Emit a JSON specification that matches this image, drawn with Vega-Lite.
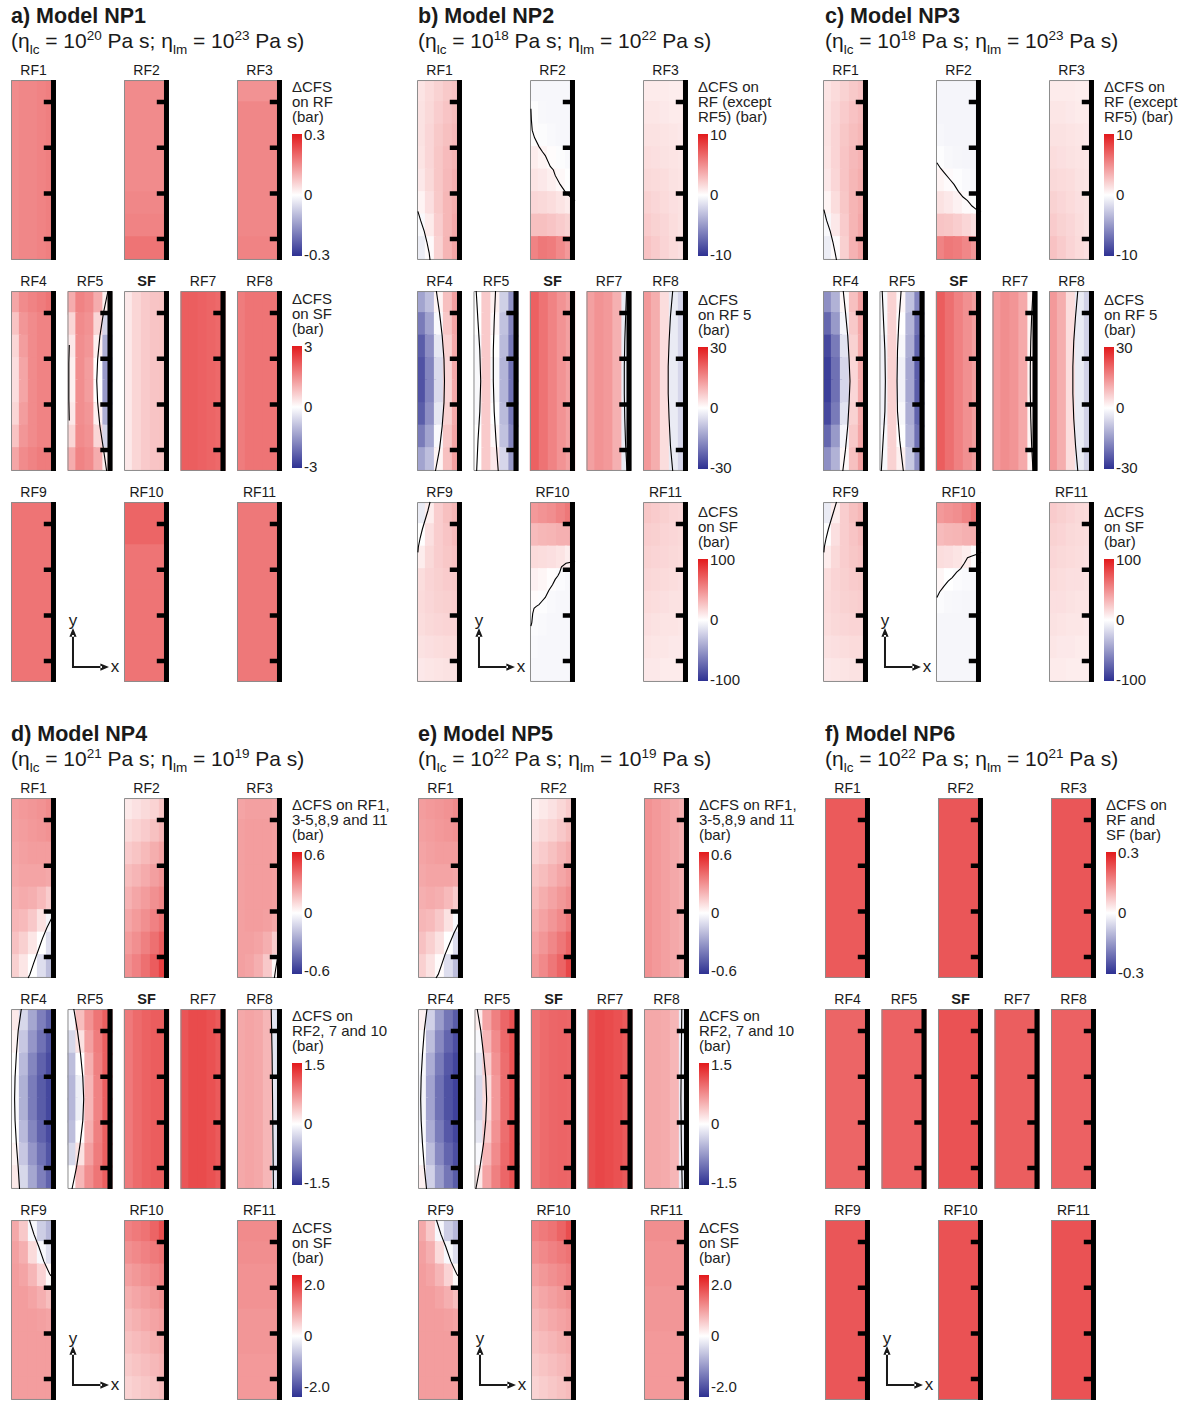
{
"$schema":"https://vega.github.io/schema/vega-lite/v6.json",
"padding":{"left":10,"top":2,"right":5,"bottom":0},
"background":"white",
"config":{
 "font":"Liberation Sans",
 "view":{"stroke":null},
 "axis":{"disable":true},
 "mark":{"color":"#1a1a1a"},
 "text":{"align":"left","baseline":"alphabetic","fontSize":21,"color":"#1a1a1a"},
 "legend":{"gradientLength":122,"gradientThickness":10,"gradientStrokeWidth":0,"titleFontSize":15,"titleFontWeight":"normal","titleColor":"#222","titleLineHeight":15,"titlePadding":9,"titleLimit":220,"labelFontSize":15,"labelColor":"#222","labelOffset":5,"offset":9,
  "layout":{"right":{"anchor":"start","direction":"vertical","margin":29}}}
},
"datasets":{
"T":[{"m":"a","w":1,"t":"a) Model NP1","e1":"20","e2":"23"},{"m":"b","w":1,"t":"b) Model NP2","e1":"18","e2":"22"},{"m":"c","w":1,"t":"c) Model NP3","e1":"18","e2":"23"},{"m":"d","w":2,"t":"d) Model NP4","e1":"21","e2":"19"},{"m":"e","w":2,"t":"e) Model NP5","e1":"22","e2":"19"},{"m":"f","w":2,"t":"f) Model NP6","e1":"22","e2":"21"}],
"a":[
{"k":"h","n":"RF1","r":1,"s":1,"q":1,"i":[0,1,2,3,4],"a":[0.155,0.16,0.16,0.165,0.17]},
{"k":"h","n":"RF2","r":1,"s":3,"q":1,"i":[0],"a":[0.155],"b":[0.155],"c":[0.155],"d":[0.155],"e":[0.155],"f":[0.16],"g":[0.165],"h":[0.185]},
{"k":"h","n":"RF3","r":1,"s":5,"q":1,"i":[0],"a":[0.145],"b":[0.16],"c":[0.16],"d":[0.16],"e":[0.16],"f":[0.16],"g":[0.16],"h":[0.165]},
{"k":"h","n":"RF4","r":2,"s":1,"q":1,"i":[0,1,2,3,4],"a":[0.12,0.155,0.165,0.175,0.185],"b":[0.08,0.14,0.155,0.165,0.165],"c":[0.055,0.13,0.155,0.165,0.165],"d":[0.045,0.12,0.155,0.165,0.165],"e":[0.045,0.12,0.155,0.165,0.165],"f":[0.055,0.13,0.155,0.165,0.165],"g":[0.08,0.14,0.155,0.165,0.165],"h":[0.12,0.155,0.165,0.175,0.175]},
{"k":"h","n":"RF5","r":2,"s":2,"q":1,"i":[0,1,2,3,4],"a":[0.11,0.165,0.155,0.11,0.02],"b":[0.055,0.155,0.145,0.055,-0.06],"c":[0.03,0.15,0.14,0.02,-0.12],"d":[0.02,0.15,0.13,0,-0.15],"e":[0.02,0.15,0.13,0,-0.15],"f":[0.03,0.15,0.14,0.02,-0.12],"g":[0.055,0.155,0.145,0.055,-0.06],"h":[0.11,0.165,0.155,0.11,0.02]},
{"k":"h","n":"SF","r":2,"s":3,"q":2,"i":[0,1,2,3,4],"a":[0.3,0.55,0.7,0.78,0.8]},
{"k":"h","n":"RF7","r":2,"s":4,"q":1,"i":[0,1,2,3,4],"a":[0.215,0.215,0.21,0.205,0.2]},
{"k":"h","n":"RF8","r":2,"s":5,"q":1,"i":[0,1,2,3,4],"a":[0.175,0.185,0.185,0.185,0.185]},
{"k":"h","n":"RF9","r":3,"s":1,"q":1,"i":[0],"a":[0.185]},
{"k":"h","n":"RF10","r":3,"s":3,"q":1,"i":[0],"a":[0.205],"b":[0.185],"c":[0.185],"d":[0.185]},
{"k":"h","n":"RF11","r":3,"s":5,"q":1,"i":[0],"a":[0.18]},
{"k":"c","r":2,"s":2,"id":1,"cx":[0.9,0.8,0.72,0.67,0.65,0.67,0.72,0.8,0.87],"cy":[1,0.88,0.75,0.62,0.5,0.38,0.25,0.12,0]},
{"k":"c","r":2,"s":2,"id":2,"cx":[0.04,0.03,0.03,0.04],"cy":[0.7,0.6,0.4,0.28]}
],
"b":[
{"k":"h","n":"RF1","r":1,"s":1,"q":1,"i":[0,1,2,3,4],"a":[1.2,1.6,2.0,2.4,2.6],"b":[1.3,1.7,2.2,2.6,2.9],"c":[1.3,1.8,2.4,2.8,3.1],"d":[1.2,1.8,2.5,3.0,3.3],"e":[1.0,1.7,2.5,3.1,3.5],"f":[0.5,1.4,2.4,3.2,3.6],"g":[-0.3,0.9,2.2,3.2,3.8],"h":[-0.9,0.2,2.0,3.3,4.0]},
{"k":"h","n":"RF2","r":1,"s":3,"q":1,"i":[0,1,2,3,4],"a":[-0.4,-0.4,-0.4,-0.4,-0.4],"b":[-0.1,-0.35,-0.4,-0.4,-0.4],"c":[0.1,-0.15,-0.3,-0.4,-0.4],"d":[0.8,0.5,0.15,-0.15,-0.3],"e":[1.2,1.0,0.7,0.3,-0.05],"f":[1.8,1.7,1.5,1.2,0.9],"g":[2.8,2.8,2.6,2.3,2.0],"h":[5.5,6.0,5.8,5.2,4.5]},
{"k":"h","n":"RF3","r":1,"s":5,"q":1,"i":[0,1,2,3,4],"a":[0.9,0.9,0.9,0.8,0.8],"b":[1.1,1.1,1.0,0.9,0.9],"c":[1.3,1.3,1.2,1.1,1.0],"d":[1.5,1.4,1.3,1.2,1.1],"e":[1.7,1.6,1.5,1.3,1.2],"f":[2.0,1.8,1.6,1.4,1.3],"g":[2.3,2.0,1.8,1.5,1.3],"h":[2.7,2.3,1.9,1.6,1.4]},
{"k":"h","n":"RF4","r":2,"s":1,"q":1,"i":[0,1,2,3,4],"a":[-4.5,-3.2,0.5,2.8,4.2],"b":[-6.5,-4.5,-0.3,2.5,4.0],"c":[-8,-5.5,-1.2,2.0,3.8],"d":[-8.5,-6,-1.8,1.8,3.8],"e":[-8.5,-6,-1.8,1.8,3.8],"f":[-8,-5.5,-1.2,2.0,3.8],"g":[-6.5,-4.5,-0.3,2.5,4.0],"h":[-4.5,-3.2,0.5,2.8,4.2]},
{"k":"h","n":"RF5","r":2,"s":2,"q":2,"i":[0,1,2,3,4],"a":[0,7,2,-7,-16],"b":[0,7,1,-9,-18],"c":[-1,7,0,-10,-20],"d":[-1,7,-1,-11,-21],"e":[-1,7,-1,-11,-21],"f":[-1,7,0,-10,-20],"g":[0,7,1,-9,-18],"h":[0,7,3,-6,-15]},
{"k":"h","n":"SF","r":2,"s":3,"q":3,"i":[0,1,2,3,4],"a":[70,62,55,48,42]},
{"k":"h","n":"RF7","r":2,"s":4,"q":1,"i":[0,1,2,3,4],"a":[4.2,4.8,4.5,3.5,-1.0]},
{"k":"h","n":"RF8","r":2,"s":5,"q":1,"i":[0,1,2,3,4],"a":[4.5,3.6,1.5,-1.0,-2.0]},
{"k":"h","n":"RF9","r":3,"s":1,"q":1,"i":[0,1,2,3,4],"a":[-1.0,0.8,2.2,2.8,3.2],"b":[0,1.4,2.2,2.6,3.0],"c":[0.8,1.7,2.2,2.5,2.7],"d":[1.5,1.9,2.1,2.3,2.4],"e":[1.6,1.8,2.0,2.1,2.2],"f":[1.5,1.7,1.8,1.9,1.9],"g":[1.3,1.4,1.5,1.6,1.6],"h":[1.0,1.1,1.2,1.3,1.3]},
{"k":"h","n":"RF10","r":3,"s":3,"q":1,"i":[0,1,2,3,4],"a":[4.5,4.8,5.0,5.5,6.0],"b":[3.0,3.2,3.3,3.5,3.5],"c":[1.6,1.5,1.4,1.2,0.8],"d":[0.6,0.4,0.1,-0.2,-0.35],"e":[0.15,-0.1,-0.3,-0.4,-0.4],"f":[-0.2,-0.3,-0.4,-0.4,-0.4],"g":[-0.3,-0.4,-0.4,-0.4,-0.4],"h":[-0.4,-0.4,-0.4,-0.4,-0.4]},
{"k":"h","n":"RF11","r":3,"s":5,"q":1,"i":[0,1,2,3,4],"a":[2.5,2.3,2.1,1.9,1.8],"b":[2.2,2.1,1.9,1.8,1.7],"c":[2.0,1.9,1.8,1.7,1.6],"d":[1.8,1.7,1.6,1.5,1.4],"e":[1.6,1.5,1.4,1.3,1.3],"f":[1.4,1.3,1.2,1.2,1.1],"g":[1.2,1.1,1.1,1.0,1.0],"h":[1.0,1.0,0.9,0.9,0.9]},
{"k":"c","r":1,"s":1,"id":1,"cx":[0.02,0.08,0.16,0.22,0.27,0.29],"cy":[0.27,0.22,0.16,0.1,0.04,0]},
{"k":"c","r":1,"s":3,"id":1,"cx":[0.02,0.03,0.05,0.1,0.2,0.28,0.34,0.45,0.52,0.56,0.67,0.78,0.9,1],"cy":[0.84,0.78,0.72,0.68,0.63,0.6,0.58,0.52,0.5,0.47,0.42,0.38,0.35,0.33]},
{"k":"c","r":2,"s":1,"id":1,"cx":[0.43,0.5,0.56,0.6,0.61,0.6,0.56,0.5,0.41],"cy":[1,0.88,0.75,0.62,0.5,0.38,0.25,0.12,0]},
{"k":"c","r":2,"s":2,"id":1,"cx":[0.06,0.1,0.14,0.16,0.14,0.1,0.07],"cy":[1,0.83,0.67,0.5,0.33,0.17,0]},
{"k":"c","r":2,"s":2,"id":2,"cx":[0.49,0.46,0.44,0.44,0.46,0.5,0.55],"cy":[1,0.83,0.67,0.5,0.33,0.17,0]},
{"k":"c","r":2,"s":4,"id":1,"cx":[0.89,0.87,0.85,0.84,0.84,0.85,0.87,0.9],"cy":[1,0.86,0.72,0.58,0.43,0.29,0.14,0]},
{"k":"c","r":2,"s":5,"id":1,"cx":[0.66,0.61,0.58,0.56,0.56,0.58,0.61,0.66],"cy":[1,0.86,0.72,0.58,0.43,0.29,0.14,0]},
{"k":"c","r":3,"s":1,"id":1,"cx":[0.29,0.24,0.18,0.12,0.07,0.03,0.02],"cy":[1,0.95,0.9,0.85,0.8,0.75,0.72]},
{"k":"c","r":3,"s":3,"id":1,"cx":[1,0.91,0.8,0.7,0.66,0.62,0.56,0.5,0.42,0.34,0.27,0.2,0.14,0.09,0.06,0.04,0.02],"cy":[0.67,0.67,0.66,0.64,0.61,0.59,0.57,0.54,0.51,0.47,0.45,0.43,0.42,0.41,0.38,0.33,0.31]}
],
"c":[
{"k":"h","n":"RF1","r":1,"s":1,"q":1,"i":[0,1,2,3,4],"a":[1.2,1.6,2.0,2.4,2.7],"b":[1.3,1.8,2.3,2.7,3.0],"c":[1.3,1.9,2.5,2.9,3.2],"d":[1.2,1.9,2.6,3.1,3.4],"e":[1.0,1.8,2.6,3.2,3.6],"f":[0.5,1.5,2.5,3.3,3.7],"g":[-0.3,1.0,2.3,3.3,3.9],"h":[-0.9,0.2,2.1,3.4,4.1]},
{"k":"h","n":"RF2","r":1,"s":3,"q":1,"i":[0,1,2,3,4],"a":[-0.5,-0.5,-0.5,-0.5,-0.5],"b":[-0.5,-0.5,-0.5,-0.5,-0.5],"c":[-0.4,-0.5,-0.5,-0.5,-0.5],"d":[-0.1,-0.35,-0.45,-0.5,-0.5],"e":[0.5,0.2,-0.1,-0.3,-0.4],"f":[1.3,1.0,0.6,0.2,-0.05],"g":[2.6,2.5,2.2,1.8,1.4],"h":[5.5,6.0,5.8,5.3,4.6]},
{"k":"h","n":"RF3","r":1,"s":5,"q":1,"i":[0,1,2,3,4],"a":[0.9,0.9,0.9,0.8,0.8],"b":[1.1,1.1,1.0,0.9,0.9],"c":[1.3,1.3,1.2,1.1,1.0],"d":[1.5,1.4,1.3,1.2,1.1],"e":[1.7,1.6,1.5,1.3,1.2],"f":[2.0,1.8,1.6,1.4,1.3],"g":[2.3,2.0,1.8,1.5,1.3],"h":[2.7,2.3,1.9,1.6,1.4]},
{"k":"h","n":"RF4","r":2,"s":1,"q":1,"i":[0,1,2,3,4],"a":[-5.5,-3.8,0.3,2.8,4.2],"b":[-7.5,-5,-0.5,2.4,4.0],"c":[-9,-6.5,-1.4,2.0,3.8],"d":[-9.5,-7,-2,1.8,3.8],"e":[-9.5,-7,-2,1.8,3.8],"f":[-9,-6.5,-1.4,2.0,3.8],"g":[-7.5,-5,-0.5,2.4,4.0],"h":[-5.5,-3.8,0.3,2.8,4.2]},
{"k":"h","n":"RF5","r":2,"s":2,"q":2,"i":[0,1,2,3,4],"a":[-1,6,1,-9,-18],"b":[-1,6,0,-11,-21],"c":[-2,6,-1,-12,-23],"d":[-2,6,-2,-13,-24],"e":[-2,6,-2,-13,-24],"f":[-2,6,-1,-12,-23],"g":[-1,6,0,-11,-21],"h":[-1,6,2,-8,-17]},
{"k":"h","n":"SF","r":2,"s":3,"q":3,"i":[0,1,2,3,4],"a":[72,64,56,49,43]},
{"k":"h","n":"RF7","r":2,"s":4,"q":1,"i":[0,1,2,3,4],"a":[4.5,5.0,4.7,3.8,0.5]},
{"k":"h","n":"RF8","r":2,"s":5,"q":1,"i":[0,1,2,3,4],"a":[4.5,3.6,1.5,-1.0,-2.2]},
{"k":"h","n":"RF9","r":3,"s":1,"q":1,"i":[0,1,2,3,4],"a":[-1.0,0.8,2.2,2.8,3.2],"b":[0,1.4,2.2,2.6,3.0],"c":[0.8,1.7,2.2,2.5,2.7],"d":[1.5,1.9,2.1,2.3,2.4],"e":[1.6,1.8,2.0,2.1,2.2],"f":[1.5,1.7,1.8,1.9,1.9],"g":[1.3,1.4,1.5,1.6,1.6],"h":[1.0,1.1,1.2,1.3,1.3]},
{"k":"h","n":"RF10","r":3,"s":3,"q":1,"i":[0,1,2,3,4],"a":[4.5,4.8,5.0,5.5,6.2],"b":[3.0,3.2,3.3,3.5,3.6],"c":[1.5,1.4,1.2,0.8,0.1],"d":[0.4,0,-0.2,-0.3,-0.35],"e":[-0.2,-0.35,-0.4,-0.45,-0.45],"f":[-0.45,-0.45,-0.45,-0.45,-0.45],"g":[-0.45,-0.45,-0.45,-0.45,-0.45],"h":[-0.45,-0.45,-0.45,-0.45,-0.45]},
{"k":"h","n":"RF11","r":3,"s":5,"q":1,"i":[0,1,2,3,4],"a":[2.3,2.1,1.9,1.7,1.6],"b":[2.0,1.9,1.7,1.6,1.5],"c":[1.8,1.7,1.6,1.5,1.4],"d":[1.6,1.5,1.4,1.4,1.3],"e":[1.4,1.4,1.3,1.2,1.2],"f":[1.3,1.2,1.1,1.1,1.0],"g":[1.1,1.0,1.0,0.9,0.9],"h":[0.9,0.9,0.8,0.8,0.8]},
{"k":"c","r":1,"s":1,"id":1,"cx":[0.02,0.08,0.16,0.22,0.27,0.3],"cy":[0.28,0.22,0.16,0.1,0.04,0]},
{"k":"c","r":1,"s":3,"id":1,"cx":[0.02,0.1,0.2,0.3,0.4,0.5,0.6,0.7,0.8,0.9,1],"cy":[0.54,0.51,0.48,0.45,0.42,0.38,0.35,0.33,0.3,0.28,0.27]},
{"k":"c","r":2,"s":1,"id":1,"cx":[0.45,0.5,0.55,0.58,0.6,0.58,0.55,0.5,0.44],"cy":[1,0.88,0.75,0.62,0.5,0.38,0.25,0.12,0]},
{"k":"c","r":2,"s":2,"id":1,"cx":[0.06,0.09,0.12,0.13,0.12,0.08,0.04],"cy":[1,0.83,0.67,0.5,0.33,0.17,0]},
{"k":"c","r":2,"s":2,"id":2,"cx":[0.48,0.43,0.4,0.39,0.4,0.45,0.53],"cy":[1,0.83,0.67,0.5,0.33,0.17,0]},
{"k":"c","r":2,"s":4,"id":1,"cx":[0.9,0.87,0.85,0.84,0.84,0.85,0.87,0.9],"cy":[1,0.86,0.72,0.58,0.43,0.29,0.14,0]},
{"k":"c","r":2,"s":5,"id":1,"cx":[0.64,0.59,0.55,0.53,0.53,0.55,0.59,0.64],"cy":[1,0.86,0.72,0.58,0.43,0.29,0.14,0]},
{"k":"c","r":3,"s":1,"id":1,"cx":[0.3,0.24,0.18,0.12,0.07,0.03,0.02],"cy":[1,0.95,0.9,0.85,0.8,0.75,0.72]},
{"k":"c","r":3,"s":3,"id":1,"cx":[1,0.91,0.8,0.7,0.63,0.55,0.46,0.36,0.27,0.17,0.08,0.02],"cy":[0.72,0.71,0.7,0.69,0.66,0.63,0.61,0.58,0.56,0.53,0.5,0.47]}
],
"d":[
{"k":"h","n":"RF1","r":1,"s":1,"q":1,"i":[0,1,2,3,4],"a":[0.27,0.28,0.29,0.3,0.32],"b":[0.26,0.27,0.28,0.29,0.3],"c":[0.25,0.26,0.27,0.27,0.27],"d":[0.24,0.25,0.25,0.25,0.24],"e":[0.22,0.23,0.22,0.19,0.14],"f":[0.2,0.19,0.15,0.08,-0.03],"g":[0.17,0.13,0.07,0,-0.1],"h":[0.13,0.07,0,-0.1,-0.2]},
{"k":"h","n":"RF2","r":1,"s":3,"q":2,"i":[0,1,2,3,4],"a":[0.15,0.2,0.25,0.3,0.4],"b":[0.25,0.3,0.35,0.42,0.5],"c":[0.35,0.4,0.47,0.55,0.62],"d":[0.45,0.5,0.57,0.65,0.72],"e":[0.52,0.6,0.67,0.75,0.82],"f":[0.6,0.68,0.76,0.85,0.95],"g":[0.68,0.76,0.86,0.97,1.1],"h":[0.75,0.85,0.97,1.1,1.3]},
{"k":"h","n":"RF3","r":1,"s":5,"q":1,"i":[0,1,2,3,4],"a":[0.25,0.26,0.26,0.26,0.25],"b":[0.26,0.27,0.27,0.27,0.26],"c":[0.26,0.27,0.27,0.27,0.26],"d":[0.26,0.27,0.27,0.27,0.26],"e":[0.26,0.27,0.27,0.27,0.26],"f":[0.26,0.27,0.27,0.26,0.24],"g":[0.26,0.26,0.25,0.22,0.14],"h":[0.26,0.25,0.22,0.15,0.02]},
{"k":"h","n":"RF4","r":2,"s":1,"q":1,"i":[0,1,2,3,4],"a":[0.06,-0.12,-0.27,-0.39,-0.48],"b":[0.03,-0.17,-0.32,-0.43,-0.52],"c":[0,-0.21,-0.37,-0.48,-0.55],"d":[-0.02,-0.24,-0.4,-0.5,-0.56],"e":[-0.02,-0.24,-0.4,-0.5,-0.56],"f":[0,-0.21,-0.37,-0.48,-0.55],"g":[0.03,-0.17,-0.32,-0.43,-0.52],"h":[0.06,-0.12,-0.27,-0.39,-0.48]},
{"k":"h","n":"RF5","r":2,"s":2,"q":1,"i":[0,1,2,3,4],"a":[-0.02,0.18,0.3,0.38,0.44],"b":[-0.12,0.08,0.26,0.36,0.44],"c":[-0.2,0,0.22,0.35,0.44],"d":[-0.22,-0.05,0.2,0.34,0.44],"e":[-0.22,-0.05,0.2,0.34,0.44],"f":[-0.2,0,0.22,0.35,0.44],"g":[-0.12,0.08,0.26,0.36,0.44],"h":[0,0.2,0.31,0.38,0.44]},
{"k":"h","n":"SF","r":2,"s":3,"q":3,"i":[0,1,2,3,4],"a":[1.4,1.55,1.65,1.7,1.7]},
{"k":"h","n":"RF7","r":2,"s":4,"q":2,"i":[0,1,2,3,4],"a":[1.15,1.22,1.22,1.18,1.12]},
{"k":"h","n":"RF8","r":2,"s":5,"q":1,"i":[0,1,2,3,4],"a":[0.24,0.25,0.24,0.2,-0.08]},
{"k":"h","n":"RF9","r":3,"s":1,"q":1,"i":[0,1,2,3,4],"a":[0.24,0.15,-0.02,-0.15,-0.22],"b":[0.26,0.22,0.1,-0.02,-0.1],"c":[0.27,0.25,0.2,0.12,0.02],"d":[0.27,0.27,0.25,0.22,0.18],"e":[0.27,0.27,0.27,0.26,0.25],"f":[0.27,0.27,0.27,0.27,0.27],"g":[0.27,0.27,0.27,0.27,0.27],"h":[0.27,0.27,0.27,0.27,0.27]},
{"k":"h","n":"RF10","r":3,"s":3,"q":2,"i":[0,1,2,3,4],"a":[0.85,0.9,0.95,1.05,1.2],"b":[0.75,0.8,0.85,0.9,0.95],"c":[0.65,0.7,0.75,0.8,0.85],"d":[0.55,0.6,0.65,0.7,0.75],"e":[0.48,0.53,0.58,0.62,0.66],"f":[0.42,0.46,0.5,0.55,0.58],"g":[0.36,0.4,0.44,0.48,0.52],"h":[0.3,0.34,0.38,0.42,0.46]},
{"k":"h","n":"RF11","r":3,"s":5,"q":1,"i":[0],"a":[0.32],"b":[0.31],"c":[0.3],"d":[0.3],"e":[0.29],"f":[0.29],"g":[0.28],"h":[0.28]},
{"k":"c","r":1,"s":1,"id":1,"cx":[0.9,0.8,0.7,0.6,0.5,0.42,0.38],"cy":[0.33,0.28,0.22,0.15,0.08,0.02,0]},
{"k":"c","r":1,"s":5,"id":1,"cx":[0.94,0.9,0.86,0.83],"cy":[0.17,0.11,0.05,0]},
{"k":"c","r":2,"s":1,"id":1,"cx":[0.23,0.16,0.12,0.09,0.08,0.09,0.12,0.16,0.19],"cy":[1,0.88,0.75,0.62,0.5,0.38,0.25,0.12,0]},
{"k":"c","r":2,"s":2,"id":1,"cx":[0.14,0.22,0.29,0.34,0.36,0.34,0.28,0.2,0.1],"cy":[1,0.88,0.75,0.62,0.5,0.38,0.25,0.12,0]},
{"k":"c","r":2,"s":5,"id":1,"cx":[0.76,0.78,0.79,0.8,0.81],"cy":[1,0.75,0.5,0.25,0]},
{"k":"c","r":3,"s":1,"id":1,"cx":[0.41,0.51,0.62,0.73,0.86,0.89],"cy":[1,0.92,0.85,0.77,0.7,0.69]}
],
"e":[
{"k":"h","n":"RF1","r":1,"s":1,"q":1,"i":[0,1,2,3,4],"a":[0.27,0.28,0.29,0.3,0.32],"b":[0.26,0.27,0.28,0.29,0.3],"c":[0.25,0.26,0.27,0.27,0.27],"d":[0.24,0.25,0.25,0.25,0.24],"e":[0.22,0.23,0.22,0.19,0.14],"f":[0.2,0.19,0.15,0.08,-0.02],"g":[0.17,0.13,0.08,0,-0.1],"h":[0.13,0.08,0.01,-0.1,-0.2]},
{"k":"h","n":"RF2","r":1,"s":3,"q":2,"i":[0,1,2,3,4],"a":[0.1,0.15,0.2,0.27,0.35],"b":[0.2,0.25,0.3,0.37,0.45],"c":[0.3,0.35,0.42,0.5,0.57],"d":[0.4,0.45,0.52,0.6,0.67],"e":[0.47,0.55,0.62,0.7,0.77],"f":[0.55,0.63,0.71,0.8,0.9],"g":[0.63,0.71,0.81,0.92,1.05],"h":[0.7,0.8,0.92,1.05,1.25]},
{"k":"h","n":"RF3","r":1,"s":5,"q":1,"i":[0,1,2,3,4],"a":[0.3,0.28,0.26,0.24,0.22]},
{"k":"h","n":"RF4","r":2,"s":1,"q":1,"i":[0,1,2,3,4],"a":[0.04,-0.14,-0.3,-0.42,-0.5],"b":[0,-0.2,-0.36,-0.47,-0.54],"c":[-0.02,-0.25,-0.4,-0.51,-0.57],"d":[-0.03,-0.28,-0.43,-0.53,-0.58],"e":[-0.03,-0.28,-0.43,-0.53,-0.58],"f":[-0.02,-0.25,-0.4,-0.51,-0.57],"g":[0,-0.2,-0.36,-0.47,-0.54],"h":[0.04,-0.14,-0.3,-0.42,-0.5]},
{"k":"h","n":"RF5","r":2,"s":2,"q":1,"i":[0,1,2,3,4],"a":[0.05,0.25,0.35,0.42,0.48],"b":[-0.02,0.2,0.32,0.41,0.48],"c":[-0.08,0.14,0.3,0.4,0.48],"d":[-0.12,0.1,0.28,0.4,0.47],"e":[-0.12,0.1,0.28,0.4,0.47],"f":[-0.08,0.14,0.3,0.4,0.48],"g":[-0.02,0.2,0.32,0.41,0.48],"h":[0.06,0.25,0.35,0.42,0.48]},
{"k":"h","n":"SF","r":2,"s":3,"q":3,"i":[0,1,2,3,4],"a":[1.45,1.55,1.6,1.62,1.6]},
{"k":"h","n":"RF7","r":2,"s":4,"q":2,"i":[0,1,2,3,4],"a":[1.2,1.25,1.22,1.18,1.12]},
{"k":"h","n":"RF8","r":2,"s":5,"q":1,"i":[0,1,2,3,4],"a":[0.24,0.24,0.23,0.2,-0.06]},
{"k":"h","n":"RF9","r":3,"s":1,"q":1,"i":[0,1,2,3,4],"a":[0.24,0.15,-0.02,-0.15,-0.22],"b":[0.26,0.22,0.1,-0.02,-0.1],"c":[0.27,0.25,0.2,0.12,0.02],"d":[0.27,0.27,0.25,0.22,0.18],"e":[0.27,0.27,0.27,0.26,0.25],"f":[0.27,0.27,0.27,0.27,0.27],"g":[0.27,0.27,0.27,0.27,0.27],"h":[0.27,0.27,0.27,0.27,0.27]},
{"k":"h","n":"RF10","r":3,"s":3,"q":2,"i":[0,1,2,3,4],"a":[0.85,0.9,0.95,1.05,1.2],"b":[0.75,0.8,0.85,0.9,0.95],"c":[0.65,0.7,0.75,0.8,0.85],"d":[0.55,0.6,0.65,0.7,0.75],"e":[0.48,0.53,0.58,0.62,0.66],"f":[0.42,0.46,0.5,0.55,0.58],"g":[0.36,0.4,0.44,0.48,0.52],"h":[0.3,0.34,0.38,0.42,0.46]},
{"k":"h","n":"RF11","r":3,"s":5,"q":1,"i":[0],"a":[0.31],"b":[0.3],"c":[0.3],"d":[0.29],"e":[0.29],"f":[0.28],"g":[0.28],"h":[0.28]},
{"k":"c","r":1,"s":1,"id":1,"cx":[0.9,0.8,0.7,0.6,0.52,0.45,0.4],"cy":[0.3,0.25,0.19,0.13,0.07,0.02,0]},
{"k":"c","r":2,"s":1,"id":1,"cx":[0.2,0.14,0.1,0.07,0.06,0.07,0.1,0.14,0.19],"cy":[1,0.88,0.75,0.62,0.5,0.38,0.25,0.12,0]},
{"k":"c","r":2,"s":2,"id":1,"cx":[0.06,0.14,0.2,0.25,0.27,0.25,0.2,0.12,0.03],"cy":[1,0.88,0.75,0.62,0.5,0.38,0.25,0.12,0]},
{"k":"c","r":2,"s":5,"id":1,"cx":[0.84,0.83,0.82,0.83,0.85],"cy":[1,0.75,0.5,0.25,0]},
{"k":"c","r":3,"s":1,"id":1,"cx":[0.41,0.51,0.62,0.73,0.86,0.89],"cy":[1,0.92,0.85,0.77,0.7,0.69]}
],
"f":[
{"k":"h","n":"RF1","r":1,"s":1,"q":1,"i":[0],"a":[0.22]},
{"k":"h","n":"RF2","r":1,"s":3,"q":1,"i":[0],"a":[0.225]},
{"k":"h","n":"RF3","r":1,"s":5,"q":1,"i":[0],"a":[0.225]},
{"k":"h","n":"RF4","r":2,"s":1,"q":1,"i":[0],"a":[0.205]},
{"k":"h","n":"RF5","r":2,"s":2,"q":1,"i":[0],"a":[0.21]},
{"k":"h","n":"SF","r":2,"s":3,"q":1,"i":[0],"a":[0.23]},
{"k":"h","n":"RF7","r":2,"s":4,"q":1,"i":[0],"a":[0.215]},
{"k":"h","n":"RF8","r":2,"s":5,"q":1,"i":[0],"a":[0.21]},
{"k":"h","n":"RF9","r":3,"s":1,"q":1,"i":[0],"a":[0.225]},
{"k":"h","n":"RF10","r":3,"s":3,"q":1,"i":[0],"a":[0.23]},
{"k":"h","n":"RF11","r":3,"s":5,"q":1,"i":[0],"a":[0.23]}
]
},
"vconcat":[
{"vconcat":[
{"data":{"name":"T"},"transform":[{"filter":"datum.w==1"}],"facet":{"column":{"field":"m","type":"nominal","header":null}},"spacing":136,"bounds":"flush",
 "spec":{"width":271,"height":44,"encoding":{"x":{"datum":0,"type":"quantitative","scale":{"domain":[0,1]}},"y":{"datum":0,"type":"quantitative","scale":{"domain":[0,1]}}},"layer":[
  {"mark":{"type":"text","fontSize":21.5,"fontWeight":"bold","dy":-23},"encoding":{"text":{"field":"t"}}},
  {"mark":{"type":"text","text":"(η","dy":2}},
  {"mark":{"type":"text","text":"lc","fontSize":13.5,"dx":18.7,"dy":8}},
  {"mark":{"type":"text","text":"= 10","dx":34.2,"dy":2}},
  {"mark":{"type":"text","fontSize":13.5,"dx":75.7,"dy":-6},"encoding":{"text":{"field":"e1"}}},
  {"mark":{"type":"text","text":"Pa s; η","dx":96.5,"dy":2}},
  {"mark":{"type":"text","text":"lm","fontSize":13.5,"dx":161.9,"dy":8}},
  {"mark":{"type":"text","text":"= 10","dx":181.9,"dy":2}},
  {"mark":{"type":"text","fontSize":13.5,"dx":223.4,"dy":-6},"encoding":{"text":{"field":"e2"}}},
  {"mark":{"type":"text","text":"Pa s)","dx":244.2,"dy":2}}
 ]}},
{"hconcat":[
 {"data":{"name":"a"},"facet":{"row":{"field":"r","type":"ordinal","header":null},"column":{"field":"s","type":"ordinal","header":null}},"spacing":{"row":31,"column":11.5},"bounds":"flush","resolve":{"scale":{"x":"independent","y":"independent"}},
  "spec":{"width":45,"height":180,"resolve":{"scale":{"x":"independent","y":"independent"}},"layer":[
   {"transform":[{"filter":"datum.k=='h'"},{"fold":["a","b","c","d","e","f","g","h"],"as":["yk","w"]},{"filter":"isValid(datum.w)"},{"flatten":["w","i"],"as":["v","xk"]}],"layer":[
    {"transform":[{"filter":"datum.q==1"}],"mark":{"type":"rect","width":{"band":1.25},"height":{"band":1.12},"clip":true},"encoding":{"x":{"field":"xk","type":"ordinal"},"y":{"field":"yk","type":"ordinal"},"color":{"field":"v","type":"quantitative","scale":{"domain":[-0.305,0,0.305],"range":["#2e3192","#ffffff","#e31a1c"],"interpolate":"rgb"},"legend":{"title":["ΔCFS","on RF","(bar)"],"values":[-0.3,0,0.3],"labelExpr":"datum.value==0?'0':(datum.value<0?'-':'')+format(abs(datum.value),abs(datum.value)==2?'.1f':'')"}}}},
    {"transform":[{"filter":"datum.q==2"}],"mark":{"type":"rect","width":{"band":1.25},"height":{"band":1.12},"clip":true},"encoding":{"x":{"field":"xk","type":"ordinal"},"y":{"field":"yk","type":"ordinal"},"fill":{"field":"v","type":"quantitative","scale":{"domain":[-3.05,0,3.05],"range":["#2e3192","#ffffff","#e31a1c"],"interpolate":"rgb"},"legend":{"title":["ΔCFS","on SF","(bar)"],"values":[-3,0,3],"labelExpr":"datum.value==0?'0':(datum.value<0?'-':'')+format(abs(datum.value),abs(datum.value)==2?'.1f':'')"}}}}
   ]},
   {"layer":[
    {"transform":[{"filter":"datum.k=='h'"}],"mark":{"type":"rect","filled":false,"stroke":"#8c8c8c","strokeWidth":1},"encoding":{"x":{"datum":0.011,"type":"quantitative","scale":{"domain":[0,1]}},"x2":{"datum":0.989},"y":{"datum":0.003,"type":"quantitative","scale":{"domain":[0,1]}},"y2":{"datum":0.997}}},
    {"transform":[{"filter":"datum.k=='h'"}],"mark":{"type":"rule","color":"black","strokeWidth":5},"encoding":{"x":{"datum":0.944}}},
    {"transform":[{"filter":"datum.k=='h'"}],"mark":{"type":"rule","color":"black","strokeWidth":10,"strokeDash":[4.5,41.2],"strokeDashOffset":-19.75},"encoding":{"x":{"datum":0.84}}},
    {"transform":[{"filter":"datum.k=='c'"},{"flatten":["cx","cy"]}],"mark":{"type":"line","color":"black","strokeWidth":1.1},"encoding":{"x":{"field":"cx","type":"quantitative"},"y":{"field":"cy","type":"quantitative"},"detail":{"field":"id"},"order":{"field":"cy"}}},
    {"transform":[{"filter":"datum.k=='h'&&datum.n!='SF'"}],"mark":{"type":"text","fontSize":14,"align":"center","dy":-5},"encoding":{"x":{"datum":0.5},"y":{"datum":1},"text":{"field":"n"}}},
    {"transform":[{"filter":"datum.n=='SF'"}],"mark":{"type":"text","fontSize":14.5,"fontWeight":"bold","align":"center","dy":-5},"encoding":{"x":{"datum":0.5},"y":{"datum":1},"text":{"field":"n"}}},
    {"transform":[{"filter":"datum.n=='RF9'"}],"mark":{"type":"point","filled":true,"opacity":1,"size":1600,"shape":"M-0.85,-0.7L-0.75,-0.7L-0.75,0.85L0.65,0.85L0.65,0.95L-0.85,0.95ZM-0.8,-1.05L-0.98,-0.62L-0.62,-0.62ZM1,0.9L0.57,0.72L0.57,1.08Z"},"encoding":{"x":{"datum":1.733},"y":{"datum":0.183}}},
    {"transform":[{"filter":"datum.n=='RF9'"}],"mark":{"type":"text","text":"y","fontSize":17,"align":"center"},"encoding":{"x":{"datum":1.38},"y":{"datum":0.31}}},
    {"transform":[{"filter":"datum.n=='RF9'"}],"mark":{"type":"text","text":"x","fontSize":17,"align":"center"},"encoding":{"x":{"datum":2.31},"y":{"datum":0.056}}}
   ]}
  ]}},
 {"data":{"name":"b"},"facet":{"row":{"field":"r","type":"ordinal","header":null},"column":{"field":"s","type":"ordinal","header":null}},"spacing":{"row":31,"column":11.5},"bounds":"flush","resolve":{"scale":{"x":"independent","y":"independent"}},
  "spec":{"width":45,"height":180,"resolve":{"scale":{"x":"independent","y":"independent"}},"layer":[
   {"transform":[{"filter":"datum.k=='h'"},{"fold":["a","b","c","d","e","f","g","h"],"as":["yk","w"]},{"filter":"isValid(datum.w)"},{"flatten":["w","i"],"as":["v","xk"]}],"layer":[
    {"transform":[{"filter":"datum.q==1"}],"mark":{"type":"rect","width":{"band":1.25},"height":{"band":1.12},"clip":true},"encoding":{"x":{"field":"xk","type":"ordinal"},"y":{"field":"yk","type":"ordinal"},"color":{"field":"v","type":"quantitative","scale":{"domain":[-10.15,0,10.15],"range":["#2e3192","#ffffff","#e31a1c"],"interpolate":"rgb"},"legend":{"title":["ΔCFS on","RF (except","RF5) (bar)"],"values":[-10,0,10],"labelExpr":"datum.value==0?'0':(datum.value<0?'-':'')+format(abs(datum.value),abs(datum.value)==2?'.1f':'')"}}}},
    {"transform":[{"filter":"datum.q==2"}],"mark":{"type":"rect","width":{"band":1.25},"height":{"band":1.12},"clip":true},"encoding":{"x":{"field":"xk","type":"ordinal"},"y":{"field":"yk","type":"ordinal"},"fill":{"field":"v","type":"quantitative","scale":{"domain":[-30.5,0,30.5],"range":["#2e3192","#ffffff","#e31a1c"],"interpolate":"rgb"},"legend":{"title":["ΔCFS","on RF 5","(bar)"],"values":[-30,0,30],"labelExpr":"datum.value==0?'0':(datum.value<0?'-':'')+format(abs(datum.value),abs(datum.value)==2?'.1f':'')"}}}},
    {"transform":[{"filter":"datum.q==3"}],"mark":{"type":"rule","strokeWidth":9.4},"encoding":{"x":{"field":"xk","type":"ordinal"},"stroke":{"field":"v","type":"quantitative","scale":{"domain":[-101.5,0,101.5],"range":["#2e3192","#ffffff","#e31a1c"],"interpolate":"rgb"},"legend":{"title":["ΔCFS","on SF","(bar)"],"values":[-100,0,100],"labelExpr":"datum.value==0?'0':(datum.value<0?'-':'')+format(abs(datum.value),abs(datum.value)==2?'.1f':'')"}}}}
   ]},
   {"layer":[
    {"transform":[{"filter":"datum.k=='h'"}],"mark":{"type":"rect","filled":false,"stroke":"#8c8c8c","strokeWidth":1},"encoding":{"x":{"datum":0.011,"type":"quantitative","scale":{"domain":[0,1]}},"x2":{"datum":0.989},"y":{"datum":0.003,"type":"quantitative","scale":{"domain":[0,1]}},"y2":{"datum":0.997}}},
    {"transform":[{"filter":"datum.k=='h'"}],"mark":{"type":"rule","color":"black","strokeWidth":5},"encoding":{"x":{"datum":0.944}}},
    {"transform":[{"filter":"datum.k=='h'"}],"mark":{"type":"rule","color":"black","strokeWidth":10,"strokeDash":[4.5,41.2],"strokeDashOffset":-19.75},"encoding":{"x":{"datum":0.84}}},
    {"transform":[{"filter":"datum.k=='c'"},{"flatten":["cx","cy"]}],"mark":{"type":"line","color":"black","strokeWidth":1.1},"encoding":{"x":{"field":"cx","type":"quantitative"},"y":{"field":"cy","type":"quantitative"},"detail":{"field":"id"},"order":{"field":"cy"}}},
    {"transform":[{"filter":"datum.k=='h'&&datum.n!='SF'"}],"mark":{"type":"text","fontSize":14,"align":"center","dy":-5},"encoding":{"x":{"datum":0.5},"y":{"datum":1},"text":{"field":"n"}}},
    {"transform":[{"filter":"datum.n=='SF'"}],"mark":{"type":"text","fontSize":14.5,"fontWeight":"bold","align":"center","dy":-5},"encoding":{"x":{"datum":0.5},"y":{"datum":1},"text":{"field":"n"}}},
    {"transform":[{"filter":"datum.n=='RF9'"}],"mark":{"type":"point","filled":true,"opacity":1,"size":1600,"shape":"M-0.85,-0.7L-0.75,-0.7L-0.75,0.85L0.65,0.85L0.65,0.95L-0.85,0.95ZM-0.8,-1.05L-0.98,-0.62L-0.62,-0.62ZM1,0.9L0.57,0.72L0.57,1.08Z"},"encoding":{"x":{"datum":1.733},"y":{"datum":0.183}}},
    {"transform":[{"filter":"datum.n=='RF9'"}],"mark":{"type":"text","text":"y","fontSize":17,"align":"center"},"encoding":{"x":{"datum":1.38},"y":{"datum":0.31}}},
    {"transform":[{"filter":"datum.n=='RF9'"}],"mark":{"type":"text","text":"x","fontSize":17,"align":"center"},"encoding":{"x":{"datum":2.31},"y":{"datum":0.056}}}
   ]}
  ]}},
 {"data":{"name":"c"},"facet":{"row":{"field":"r","type":"ordinal","header":null},"column":{"field":"s","type":"ordinal","header":null}},"spacing":{"row":31,"column":11.5},"bounds":"flush","resolve":{"scale":{"x":"independent","y":"independent"}},
  "spec":{"width":45,"height":180,"resolve":{"scale":{"x":"independent","y":"independent"}},"layer":[
   {"transform":[{"filter":"datum.k=='h'"},{"fold":["a","b","c","d","e","f","g","h"],"as":["yk","w"]},{"filter":"isValid(datum.w)"},{"flatten":["w","i"],"as":["v","xk"]}],"layer":[
    {"transform":[{"filter":"datum.q==1"}],"mark":{"type":"rect","width":{"band":1.25},"height":{"band":1.12},"clip":true},"encoding":{"x":{"field":"xk","type":"ordinal"},"y":{"field":"yk","type":"ordinal"},"color":{"field":"v","type":"quantitative","scale":{"domain":[-10.15,0,10.15],"range":["#2e3192","#ffffff","#e31a1c"],"interpolate":"rgb"},"legend":{"title":["ΔCFS on","RF (except","RF5) (bar)"],"values":[-10,0,10],"labelExpr":"datum.value==0?'0':(datum.value<0?'-':'')+format(abs(datum.value),abs(datum.value)==2?'.1f':'')"}}}},
    {"transform":[{"filter":"datum.q==2"}],"mark":{"type":"rect","width":{"band":1.25},"height":{"band":1.12},"clip":true},"encoding":{"x":{"field":"xk","type":"ordinal"},"y":{"field":"yk","type":"ordinal"},"fill":{"field":"v","type":"quantitative","scale":{"domain":[-30.5,0,30.5],"range":["#2e3192","#ffffff","#e31a1c"],"interpolate":"rgb"},"legend":{"title":["ΔCFS","on RF 5","(bar)"],"values":[-30,0,30],"labelExpr":"datum.value==0?'0':(datum.value<0?'-':'')+format(abs(datum.value),abs(datum.value)==2?'.1f':'')"}}}},
    {"transform":[{"filter":"datum.q==3"}],"mark":{"type":"rule","strokeWidth":9.4},"encoding":{"x":{"field":"xk","type":"ordinal"},"stroke":{"field":"v","type":"quantitative","scale":{"domain":[-101.5,0,101.5],"range":["#2e3192","#ffffff","#e31a1c"],"interpolate":"rgb"},"legend":{"title":["ΔCFS","on SF","(bar)"],"values":[-100,0,100],"labelExpr":"datum.value==0?'0':(datum.value<0?'-':'')+format(abs(datum.value),abs(datum.value)==2?'.1f':'')"}}}}
   ]},
   {"layer":[
    {"transform":[{"filter":"datum.k=='h'"}],"mark":{"type":"rect","filled":false,"stroke":"#8c8c8c","strokeWidth":1},"encoding":{"x":{"datum":0.011,"type":"quantitative","scale":{"domain":[0,1]}},"x2":{"datum":0.989},"y":{"datum":0.003,"type":"quantitative","scale":{"domain":[0,1]}},"y2":{"datum":0.997}}},
    {"transform":[{"filter":"datum.k=='h'"}],"mark":{"type":"rule","color":"black","strokeWidth":5},"encoding":{"x":{"datum":0.944}}},
    {"transform":[{"filter":"datum.k=='h'"}],"mark":{"type":"rule","color":"black","strokeWidth":10,"strokeDash":[4.5,41.2],"strokeDashOffset":-19.75},"encoding":{"x":{"datum":0.84}}},
    {"transform":[{"filter":"datum.k=='c'"},{"flatten":["cx","cy"]}],"mark":{"type":"line","color":"black","strokeWidth":1.1},"encoding":{"x":{"field":"cx","type":"quantitative"},"y":{"field":"cy","type":"quantitative"},"detail":{"field":"id"},"order":{"field":"cy"}}},
    {"transform":[{"filter":"datum.k=='h'&&datum.n!='SF'"}],"mark":{"type":"text","fontSize":14,"align":"center","dy":-5},"encoding":{"x":{"datum":0.5},"y":{"datum":1},"text":{"field":"n"}}},
    {"transform":[{"filter":"datum.n=='SF'"}],"mark":{"type":"text","fontSize":14.5,"fontWeight":"bold","align":"center","dy":-5},"encoding":{"x":{"datum":0.5},"y":{"datum":1},"text":{"field":"n"}}},
    {"transform":[{"filter":"datum.n=='RF9'"}],"mark":{"type":"point","filled":true,"opacity":1,"size":1600,"shape":"M-0.85,-0.7L-0.75,-0.7L-0.75,0.85L0.65,0.85L0.65,0.95L-0.85,0.95ZM-0.8,-1.05L-0.98,-0.62L-0.62,-0.62ZM1,0.9L0.57,0.72L0.57,1.08Z"},"encoding":{"x":{"datum":1.733},"y":{"datum":0.183}}},
    {"transform":[{"filter":"datum.n=='RF9'"}],"mark":{"type":"text","text":"y","fontSize":17,"align":"center"},"encoding":{"x":{"datum":1.38},"y":{"datum":0.31}}},
    {"transform":[{"filter":"datum.n=='RF9'"}],"mark":{"type":"text","text":"x","fontSize":17,"align":"center"},"encoding":{"x":{"datum":2.31},"y":{"datum":0.056}}}
   ]}
  ]}}
 ],"spacing":49,"align":"all","resolve":{"scale":{"color":"independent","fill":"independent","stroke":"independent"}}}
],"spacing":7,"resolve":{"scale":{"color":"independent","fill":"independent","stroke":"independent"}}},
{"vconcat":[
{"data":{"name":"T"},"transform":[{"filter":"datum.w==2"}],"facet":{"column":{"field":"m","type":"nominal","header":null}},"spacing":136,"bounds":"flush",
 "spec":{"width":271,"height":44,"encoding":{"x":{"datum":0,"type":"quantitative","scale":{"domain":[0,1]}},"y":{"datum":0,"type":"quantitative","scale":{"domain":[0,1]}}},"layer":[
  {"mark":{"type":"text","fontSize":21.5,"fontWeight":"bold","dy":-23},"encoding":{"text":{"field":"t"}}},
  {"mark":{"type":"text","text":"(η","dy":2}},
  {"mark":{"type":"text","text":"lc","fontSize":13.5,"dx":18.7,"dy":8}},
  {"mark":{"type":"text","text":"= 10","dx":34.2,"dy":2}},
  {"mark":{"type":"text","fontSize":13.5,"dx":75.7,"dy":-6},"encoding":{"text":{"field":"e1"}}},
  {"mark":{"type":"text","text":"Pa s; η","dx":96.5,"dy":2}},
  {"mark":{"type":"text","text":"lm","fontSize":13.5,"dx":161.9,"dy":8}},
  {"mark":{"type":"text","text":"= 10","dx":181.9,"dy":2}},
  {"mark":{"type":"text","fontSize":13.5,"dx":223.4,"dy":-6},"encoding":{"text":{"field":"e2"}}},
  {"mark":{"type":"text","text":"Pa s)","dx":244.2,"dy":2}}
 ]}},
{"hconcat":[
 {"data":{"name":"d"},"facet":{"row":{"field":"r","type":"ordinal","header":null},"column":{"field":"s","type":"ordinal","header":null}},"spacing":{"row":31,"column":11.5},"bounds":"flush","resolve":{"scale":{"x":"independent","y":"independent"}},
  "spec":{"width":45,"height":180,"resolve":{"scale":{"x":"independent","y":"independent"}},"layer":[
   {"transform":[{"filter":"datum.k=='h'"},{"fold":["a","b","c","d","e","f","g","h"],"as":["yk","w"]},{"filter":"isValid(datum.w)"},{"flatten":["w","i"],"as":["v","xk"]}],"layer":[
    {"transform":[{"filter":"datum.q==1"}],"mark":{"type":"rect","width":{"band":1.25},"height":{"band":1.12},"clip":true},"encoding":{"x":{"field":"xk","type":"ordinal"},"y":{"field":"yk","type":"ordinal"},"color":{"field":"v","type":"quantitative","scale":{"domain":[-0.63,0,0.63],"range":["#2e3192","#ffffff","#e31a1c"],"interpolate":"rgb"},"legend":{"title":["ΔCFS on RF1,","3-5,8,9 and 11","(bar)"],"values":[-0.6,0,0.6],"labelExpr":"datum.value==0?'0':(datum.value<0?'-':'')+format(abs(datum.value),abs(datum.value)==2?'.1f':'')"}}}},
    {"transform":[{"filter":"datum.q==2"}],"mark":{"type":"rect","width":{"band":1.25},"height":{"band":1.12},"clip":true},"encoding":{"x":{"field":"xk","type":"ordinal"},"y":{"field":"yk","type":"ordinal"},"fill":{"field":"v","type":"quantitative","scale":{"domain":[-1.55,0,1.55],"range":["#2e3192","#ffffff","#e31a1c"],"interpolate":"rgb"},"legend":{"title":["ΔCFS on","RF2, 7 and 10","(bar)"],"values":[-1.5,0,1.5],"labelExpr":"datum.value==0?'0':(datum.value<0?'-':'')+format(abs(datum.value),abs(datum.value)==2?'.1f':'')"}}}},
    {"transform":[{"filter":"datum.q==3"}],"mark":{"type":"rule","strokeWidth":9.4},"encoding":{"x":{"field":"xk","type":"ordinal"},"stroke":{"field":"v","type":"quantitative","scale":{"domain":[-2.4,0,2.4],"range":["#2e3192","#ffffff","#e31a1c"],"interpolate":"rgb"},"legend":{"title":["ΔCFS","on SF","(bar)"],"values":[-2,0,2],"labelExpr":"datum.value==0?'0':(datum.value<0?'-':'')+format(abs(datum.value),abs(datum.value)==2?'.1f':'')"}}}}
   ]},
   {"layer":[
    {"transform":[{"filter":"datum.k=='h'"}],"mark":{"type":"rect","filled":false,"stroke":"#8c8c8c","strokeWidth":1},"encoding":{"x":{"datum":0.011,"type":"quantitative","scale":{"domain":[0,1]}},"x2":{"datum":0.989},"y":{"datum":0.003,"type":"quantitative","scale":{"domain":[0,1]}},"y2":{"datum":0.997}}},
    {"transform":[{"filter":"datum.k=='h'"}],"mark":{"type":"rule","color":"black","strokeWidth":5},"encoding":{"x":{"datum":0.944}}},
    {"transform":[{"filter":"datum.k=='h'"}],"mark":{"type":"rule","color":"black","strokeWidth":10,"strokeDash":[4.5,41.2],"strokeDashOffset":-19.75},"encoding":{"x":{"datum":0.84}}},
    {"transform":[{"filter":"datum.k=='c'"},{"flatten":["cx","cy"]}],"mark":{"type":"line","color":"black","strokeWidth":1.1},"encoding":{"x":{"field":"cx","type":"quantitative"},"y":{"field":"cy","type":"quantitative"},"detail":{"field":"id"},"order":{"field":"cy"}}},
    {"transform":[{"filter":"datum.k=='h'&&datum.n!='SF'"}],"mark":{"type":"text","fontSize":14,"align":"center","dy":-5},"encoding":{"x":{"datum":0.5},"y":{"datum":1},"text":{"field":"n"}}},
    {"transform":[{"filter":"datum.n=='SF'"}],"mark":{"type":"text","fontSize":14.5,"fontWeight":"bold","align":"center","dy":-5},"encoding":{"x":{"datum":0.5},"y":{"datum":1},"text":{"field":"n"}}},
    {"transform":[{"filter":"datum.n=='RF9'"}],"mark":{"type":"point","filled":true,"opacity":1,"size":1600,"shape":"M-0.85,-0.7L-0.75,-0.7L-0.75,0.85L0.65,0.85L0.65,0.95L-0.85,0.95ZM-0.8,-1.05L-0.98,-0.62L-0.62,-0.62ZM1,0.9L0.57,0.72L0.57,1.08Z"},"encoding":{"x":{"datum":1.733},"y":{"datum":0.183}}},
    {"transform":[{"filter":"datum.n=='RF9'"}],"mark":{"type":"text","text":"y","fontSize":17,"align":"center"},"encoding":{"x":{"datum":1.38},"y":{"datum":0.31}}},
    {"transform":[{"filter":"datum.n=='RF9'"}],"mark":{"type":"text","text":"x","fontSize":17,"align":"center"},"encoding":{"x":{"datum":2.31},"y":{"datum":0.056}}}
   ]}
  ]}},
 {"data":{"name":"e"},"facet":{"row":{"field":"r","type":"ordinal","header":null},"column":{"field":"s","type":"ordinal","header":null}},"spacing":{"row":31,"column":11.5},"bounds":"flush","resolve":{"scale":{"x":"independent","y":"independent"}},
  "spec":{"width":45,"height":180,"resolve":{"scale":{"x":"independent","y":"independent"}},"layer":[
   {"transform":[{"filter":"datum.k=='h'"},{"fold":["a","b","c","d","e","f","g","h"],"as":["yk","w"]},{"filter":"isValid(datum.w)"},{"flatten":["w","i"],"as":["v","xk"]}],"layer":[
    {"transform":[{"filter":"datum.q==1"}],"mark":{"type":"rect","width":{"band":1.25},"height":{"band":1.12},"clip":true},"encoding":{"x":{"field":"xk","type":"ordinal"},"y":{"field":"yk","type":"ordinal"},"color":{"field":"v","type":"quantitative","scale":{"domain":[-0.63,0,0.63],"range":["#2e3192","#ffffff","#e31a1c"],"interpolate":"rgb"},"legend":{"title":["ΔCFS on RF1,","3-5,8,9 and 11","(bar)"],"values":[-0.6,0,0.6],"labelExpr":"datum.value==0?'0':(datum.value<0?'-':'')+format(abs(datum.value),abs(datum.value)==2?'.1f':'')"}}}},
    {"transform":[{"filter":"datum.q==2"}],"mark":{"type":"rect","width":{"band":1.25},"height":{"band":1.12},"clip":true},"encoding":{"x":{"field":"xk","type":"ordinal"},"y":{"field":"yk","type":"ordinal"},"fill":{"field":"v","type":"quantitative","scale":{"domain":[-1.55,0,1.55],"range":["#2e3192","#ffffff","#e31a1c"],"interpolate":"rgb"},"legend":{"title":["ΔCFS on","RF2, 7 and 10","(bar)"],"values":[-1.5,0,1.5],"labelExpr":"datum.value==0?'0':(datum.value<0?'-':'')+format(abs(datum.value),abs(datum.value)==2?'.1f':'')"}}}},
    {"transform":[{"filter":"datum.q==3"}],"mark":{"type":"rule","strokeWidth":9.4},"encoding":{"x":{"field":"xk","type":"ordinal"},"stroke":{"field":"v","type":"quantitative","scale":{"domain":[-2.4,0,2.4],"range":["#2e3192","#ffffff","#e31a1c"],"interpolate":"rgb"},"legend":{"title":["ΔCFS","on SF","(bar)"],"values":[-2,0,2],"labelExpr":"datum.value==0?'0':(datum.value<0?'-':'')+format(abs(datum.value),abs(datum.value)==2?'.1f':'')"}}}}
   ]},
   {"layer":[
    {"transform":[{"filter":"datum.k=='h'"}],"mark":{"type":"rect","filled":false,"stroke":"#8c8c8c","strokeWidth":1},"encoding":{"x":{"datum":0.011,"type":"quantitative","scale":{"domain":[0,1]}},"x2":{"datum":0.989},"y":{"datum":0.003,"type":"quantitative","scale":{"domain":[0,1]}},"y2":{"datum":0.997}}},
    {"transform":[{"filter":"datum.k=='h'"}],"mark":{"type":"rule","color":"black","strokeWidth":5},"encoding":{"x":{"datum":0.944}}},
    {"transform":[{"filter":"datum.k=='h'"}],"mark":{"type":"rule","color":"black","strokeWidth":10,"strokeDash":[4.5,41.2],"strokeDashOffset":-19.75},"encoding":{"x":{"datum":0.84}}},
    {"transform":[{"filter":"datum.k=='c'"},{"flatten":["cx","cy"]}],"mark":{"type":"line","color":"black","strokeWidth":1.1},"encoding":{"x":{"field":"cx","type":"quantitative"},"y":{"field":"cy","type":"quantitative"},"detail":{"field":"id"},"order":{"field":"cy"}}},
    {"transform":[{"filter":"datum.k=='h'&&datum.n!='SF'"}],"mark":{"type":"text","fontSize":14,"align":"center","dy":-5},"encoding":{"x":{"datum":0.5},"y":{"datum":1},"text":{"field":"n"}}},
    {"transform":[{"filter":"datum.n=='SF'"}],"mark":{"type":"text","fontSize":14.5,"fontWeight":"bold","align":"center","dy":-5},"encoding":{"x":{"datum":0.5},"y":{"datum":1},"text":{"field":"n"}}},
    {"transform":[{"filter":"datum.n=='RF9'"}],"mark":{"type":"point","filled":true,"opacity":1,"size":1600,"shape":"M-0.85,-0.7L-0.75,-0.7L-0.75,0.85L0.65,0.85L0.65,0.95L-0.85,0.95ZM-0.8,-1.05L-0.98,-0.62L-0.62,-0.62ZM1,0.9L0.57,0.72L0.57,1.08Z"},"encoding":{"x":{"datum":1.733},"y":{"datum":0.183}}},
    {"transform":[{"filter":"datum.n=='RF9'"}],"mark":{"type":"text","text":"y","fontSize":17,"align":"center"},"encoding":{"x":{"datum":1.38},"y":{"datum":0.31}}},
    {"transform":[{"filter":"datum.n=='RF9'"}],"mark":{"type":"text","text":"x","fontSize":17,"align":"center"},"encoding":{"x":{"datum":2.31},"y":{"datum":0.056}}}
   ]}
  ]}},
 {"data":{"name":"f"},"facet":{"row":{"field":"r","type":"ordinal","header":null},"column":{"field":"s","type":"ordinal","header":null}},"spacing":{"row":31,"column":11.5},"bounds":"flush","resolve":{"scale":{"x":"independent","y":"independent"}},
  "spec":{"width":45,"height":180,"resolve":{"scale":{"x":"independent","y":"independent"}},"layer":[
   {"transform":[{"filter":"datum.k=='h'"},{"fold":["a","b","c","d","e","f","g","h"],"as":["yk","w"]},{"filter":"isValid(datum.w)"},{"flatten":["w","i"],"as":["v","xk"]}],"layer":[
    {"transform":[{"filter":"datum.q==1"}],"mark":{"type":"rect","width":{"band":1.25},"height":{"band":1.12},"clip":true},"encoding":{"x":{"field":"xk","type":"ordinal"},"y":{"field":"yk","type":"ordinal"},"color":{"field":"v","type":"quantitative","scale":{"domain":[-0.305,0,0.305],"range":["#2e3192","#ffffff","#e31a1c"],"interpolate":"rgb"},"legend":{"title":["ΔCFS on","RF and","SF (bar)"],"values":[-0.3,0,0.3],"labelExpr":"datum.value==0?'0':(datum.value<0?'-':'')+format(abs(datum.value),abs(datum.value)==2?'.1f':'')"}}}}
   ]},
   {"layer":[
    {"transform":[{"filter":"datum.k=='h'"}],"mark":{"type":"rect","filled":false,"stroke":"#8c8c8c","strokeWidth":1},"encoding":{"x":{"datum":0.011,"type":"quantitative","scale":{"domain":[0,1]}},"x2":{"datum":0.989},"y":{"datum":0.003,"type":"quantitative","scale":{"domain":[0,1]}},"y2":{"datum":0.997}}},
    {"transform":[{"filter":"datum.k=='h'"}],"mark":{"type":"rule","color":"black","strokeWidth":5},"encoding":{"x":{"datum":0.944}}},
    {"transform":[{"filter":"datum.k=='h'"}],"mark":{"type":"rule","color":"black","strokeWidth":10,"strokeDash":[4.5,41.2],"strokeDashOffset":-19.75},"encoding":{"x":{"datum":0.84}}},
    {"transform":[{"filter":"datum.k=='h'&&datum.n!='SF'"}],"mark":{"type":"text","fontSize":14,"align":"center","dy":-5},"encoding":{"x":{"datum":0.5},"y":{"datum":1},"text":{"field":"n"}}},
    {"transform":[{"filter":"datum.n=='SF'"}],"mark":{"type":"text","fontSize":14.5,"fontWeight":"bold","align":"center","dy":-5},"encoding":{"x":{"datum":0.5},"y":{"datum":1},"text":{"field":"n"}}},
    {"transform":[{"filter":"datum.n=='RF9'"}],"mark":{"type":"point","filled":true,"opacity":1,"size":1600,"shape":"M-0.85,-0.7L-0.75,-0.7L-0.75,0.85L0.65,0.85L0.65,0.95L-0.85,0.95ZM-0.8,-1.05L-0.98,-0.62L-0.62,-0.62ZM1,0.9L0.57,0.72L0.57,1.08Z"},"encoding":{"x":{"datum":1.733},"y":{"datum":0.183}}},
    {"transform":[{"filter":"datum.n=='RF9'"}],"mark":{"type":"text","text":"y","fontSize":17,"align":"center"},"encoding":{"x":{"datum":1.38},"y":{"datum":0.31}}},
    {"transform":[{"filter":"datum.n=='RF9'"}],"mark":{"type":"text","text":"x","fontSize":17,"align":"center"},"encoding":{"x":{"datum":2.31},"y":{"datum":0.056}}}
   ]}
  ]}}
 ],"spacing":27,"align":"all","resolve":{"scale":{"color":"independent","fill":"independent","stroke":"independent"}}}
],"spacing":7,"resolve":{"scale":{"color":"independent","fill":"independent","stroke":"independent"}}}
],
"spacing":31,
"resolve":{"scale":{"color":"independent","fill":"independent","stroke":"independent"}}
}
